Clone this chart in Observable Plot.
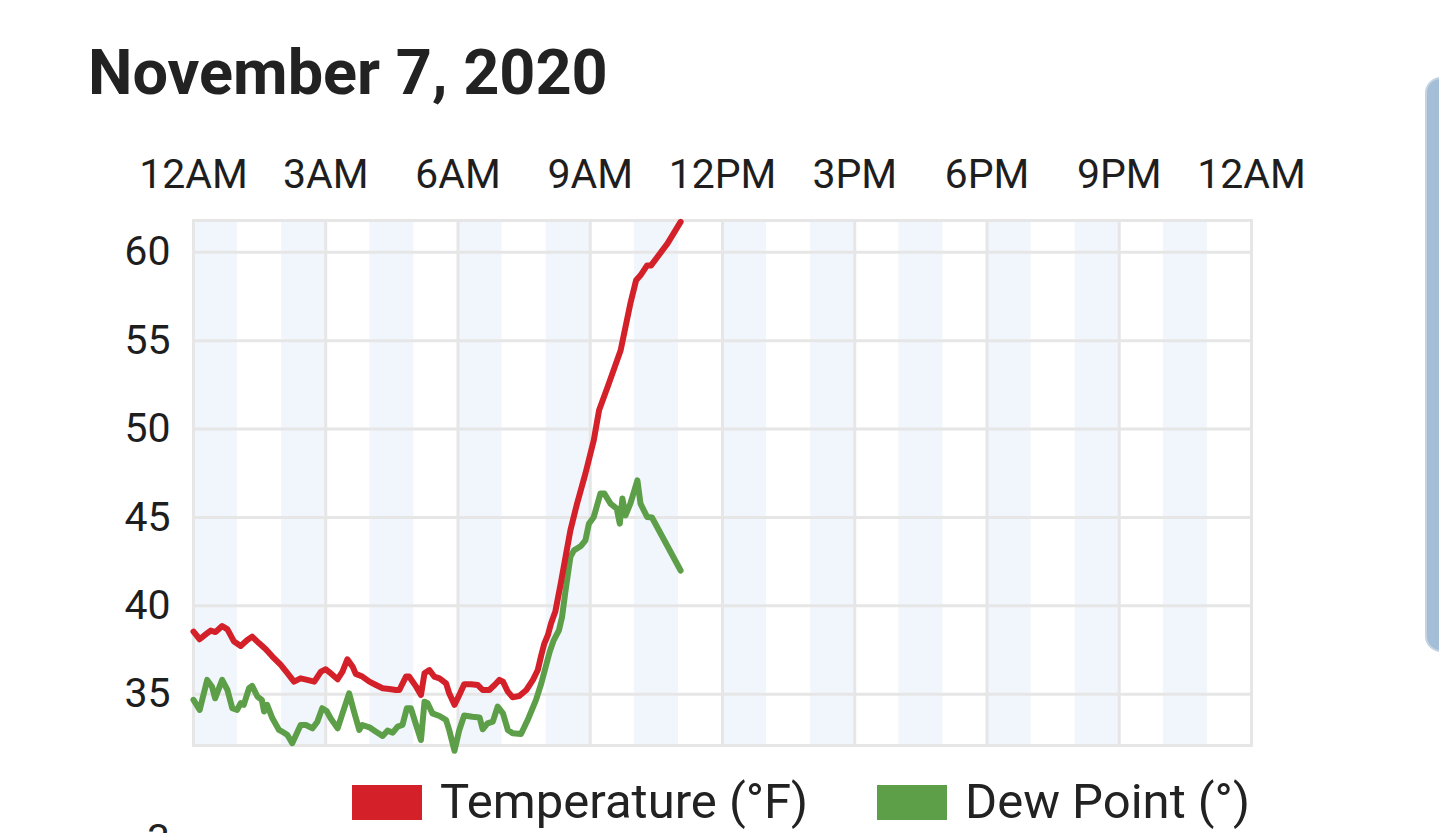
<!DOCTYPE html>
<html>
<head>
<meta charset="utf-8">
<script src="https://cdn.jsdelivr.net/npm/d3@7"></script>
<script src="https://cdn.jsdelivr.net/npm/@observablehq/plot@0.6"></script>
<style>
  html, body { margin: 0; padding: 0; width: 1439px; height: 833px; overflow: hidden; background: #fff; font-family: Roboto, sans-serif; color: #212121; }
  #title { position: absolute; left: 88px; top: 41px; font-size: 63px; line-height: 1; font-weight: 700; white-space: nowrap; color: #222; }
  #chart { position: absolute; left: 0; top: 130px; }
  .sw { position: absolute; top: 785px; width: 70px; height: 35px; }
  .lt { position: absolute; top: 777px; font-size: 49px; line-height: 1; white-space: nowrap; color: #222; }
  #scroll { position: absolute; left: 1425px; top: 77px; width: 40px; height: 575px; background: #a3bed6; border-radius: 16px; border: 2px solid #c3d3e2; box-sizing: border-box; }
  #next { position: absolute; left: 147px; top: 819px; font-size: 41px; line-height: 1; color: #222; }
</style>
</head>
<body>
<div id="title">November 7, 2020</div>
<div id="chart"></div>
<div class="sw" style="left:352px;background:#d42029"></div>
<div class="lt" style="left:440px">Temperature (°F)</div>
<div class="sw" style="left:877px;background:#5c9f48"></div>
<div class="lt" style="left:965px">Dew Point (°)</div>
<div id="scroll"></div>
<div id="next">3</div>
<script>
// hours since midnight
const tempHours = [0.00,0.14,0.29,0.39,0.50,0.65,0.77,0.92,1.07,1.22,1.33,1.49,1.64,1.79,1.98,2.13,2.28,2.43,2.58,2.74,2.89,3.00,3.11,3.27,3.38,3.49,3.61,3.68,3.83,3.99,4.14,4.29,4.44,4.59,4.67,4.82,4.89,5.05,5.16,5.24,5.35,5.46,5.58,5.73,5.80,5.92,6.03,6.14,6.30,6.45,6.56,6.71,6.83,6.94,7.02,7.13,7.24,7.39,7.55,7.70,7.81,7.89,7.96,8.04,8.11,8.21,8.33,8.44,8.55,8.70,8.89,9.08,9.20,9.42,9.69,9.80,9.91,10.04,10.14,10.29,10.38,10.75,11.05];
const tempValues = [38.54,38.11,38.41,38.60,38.52,38.86,38.67,37.98,37.73,38.07,38.26,37.88,37.54,37.13,36.66,36.19,35.71,35.90,35.81,35.71,36.28,36.41,36.19,35.85,36.28,36.98,36.56,36.15,36.00,35.71,35.52,35.34,35.30,35.24,35.24,36.00,36.00,35.43,34.96,36.19,36.37,36.00,35.90,35.62,35.05,34.40,34.96,35.57,35.57,35.52,35.24,35.24,35.52,35.81,35.71,35.15,34.83,34.90,35.24,35.81,36.37,37.22,37.88,38.35,39.00,39.70,41.26,42.77,44.28,45.78,47.48,49.37,51.06,52.57,54.46,55.78,57.10,58.42,58.70,59.26,59.26,60.49,61.72];

const dewHours = [0.00,0.14,0.31,0.42,0.49,0.65,0.77,0.88,0.99,1.07,1.14,1.26,1.33,1.45,1.55,1.60,1.67,1.79,1.94,2.05,2.13,2.24,2.43,2.55,2.70,2.81,2.92,3.02,3.11,3.27,3.38,3.53,3.64,3.76,3.83,3.99,4.14,4.29,4.40,4.52,4.63,4.74,4.84,4.93,5.05,5.16,5.24,5.31,5.42,5.58,5.73,5.80,5.92,6.03,6.14,6.33,6.49,6.56,6.67,6.79,6.90,7.02,7.13,7.24,7.43,7.58,7.77,7.89,8.00,8.08,8.17,8.29,8.36,8.44,8.55,8.63,8.78,8.89,8.97,9.08,9.23,9.32,9.46,9.60,9.67,9.73,9.80,9.91,10.07,10.14,10.29,10.40,11.05];
const dewValues = [34.68,34.11,35.81,35.43,34.77,35.81,35.24,34.21,34.11,34.49,34.40,35.34,35.47,34.87,34.68,34.02,34.40,33.64,32.98,32.83,32.69,32.23,33.26,33.26,33.07,33.45,34.21,34.05,33.64,33.07,33.92,35.05,34.02,32.98,33.26,33.13,32.88,32.64,32.94,32.83,33.17,33.26,34.21,34.21,33.26,32.41,34.58,34.49,33.92,33.77,33.54,32.98,31.80,32.98,33.80,33.73,33.69,33.02,33.35,33.45,34.30,33.92,32.98,32.79,32.75,33.54,34.68,35.62,36.66,37.40,38.05,38.62,39.37,40.88,42.77,43.14,43.37,43.71,44.65,45.03,46.35,46.35,45.78,45.50,44.65,46.07,45.12,45.78,47.10,45.78,45.03,45.00,42.00];

const xTicks = [0,3,6,9,12,15,18,21,24];
const xTickLabels = ["12AM","3AM","6AM","9AM","12PM","3PM","6PM","9PM","12AM"];
const yTicks = [35,40,45,50,55,60];
const bandStarts = [0,2,4,6,8,10,12,14,16,18,20,22];

const temp = tempHours.map((h, i) => ({h, v: tempValues[i]}));
const dew = dewHours.map((h, i) => ({h, v: dewValues[i]}));

const gridColor = "#e6e6e6";

const plot = Plot.plot({
  width: 1439,
  height: 640,
  marginTop: 90,
  marginBottom: 25,
  marginLeft: 193,
  marginRight: 188,
  x: {domain: [0, 24], label: null},
  y: {domain: [32.1, 61.8], label: null},
  style: {fontFamily: "Roboto, sans-serif", color: "#1e1e1e", background: "transparent", overflow: "visible"},
  marks: [
    Plot.rect(bandStarts, {x1: d => d, x2: d => d + 1, fill: "#f0f6fb"}),
    Plot.gridX(xTicks, {stroke: gridColor, strokeOpacity: 1, strokeWidth: 3}),
    Plot.gridY(yTicks, {stroke: gridColor, strokeOpacity: 1, strokeWidth: 3}),
    Plot.frame({stroke: gridColor, strokeWidth: 3}),
    Plot.line(dew, {x: "h", y: "v", stroke: "#5c9f48", strokeWidth: 6}),
    Plot.line(temp, {x: "h", y: "v", stroke: "#d42029", strokeWidth: 6}),
    Plot.axisX(xTicks, {anchor: "top", tickSize: 0, tickPadding: 33, fontSize: 41, label: null,
      tickFormat: d => xTickLabels[xTicks.indexOf(d)]}),
    Plot.axisY(yTicks, {anchor: "left", tickSize: 0, tickPadding: 23, fontSize: 41, label: null})
  ]
});
document.getElementById("chart").appendChild(plot);
</script>
</body>
</html>
